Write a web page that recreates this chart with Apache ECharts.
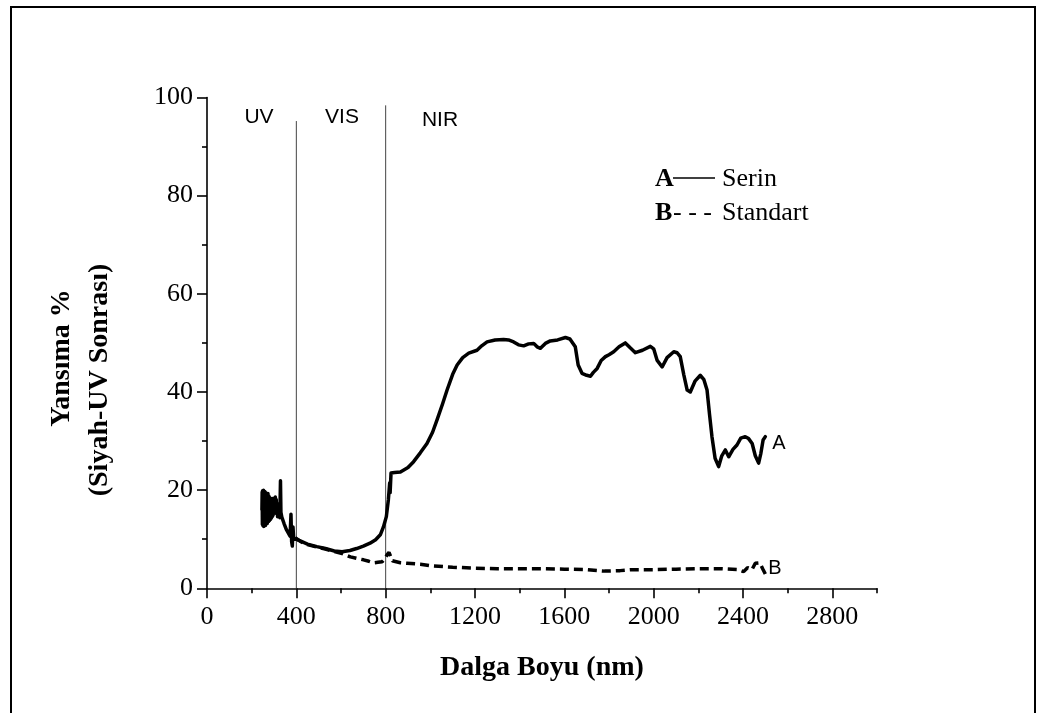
<!DOCTYPE html>
<html>
<head>
<meta charset="utf-8">
<script src="https://cdn.jsdelivr.net/npm/echarts@6/dist/echarts.min.js"></script>
<style>
  html, body { margin: 0; padding: 0; background: #fff; }
  #chart { width: 1049px; height: 713px; }
</style>
</head>
<body>
<div id="chart"></div>
<script>
// Wavelength (nm) / reflectance (%) pairs for the two fabrics
const serinNoise = [
  [246, 16.0], [247, 19.6], [248, 13.0], [249, 19.9], [250, 12.8], [251, 19.4],
  [252, 13.2], [253, 20.0], [254, 12.6], [255, 19.8], [256, 13.4], [257, 19.1],
  [258, 12.9], [259, 19.7], [260, 13.3], [261, 18.9], [262, 12.8], [263, 19.5],
  [264, 13.6], [265, 19.2], [266, 13.1], [267, 18.6], [268, 13.5], [269, 19.0],
  [270, 13.2], [271, 18.3], [272, 13.9], [273, 19.3], [274, 14.1], [275, 18.2],
  [276, 13.6], [277, 18.8], [278, 14.4], [279, 17.9], [280, 13.8], [281, 18.5],
  [282, 14.6], [283, 17.6], [284, 14.0], [285, 18.2], [286, 14.8], [287, 17.3],
  [288, 14.3], [289, 18.0], [290, 15.0], [291, 17.4], [292, 14.6], [293, 18.3],
  [294, 15.1], [295, 17.6], [296, 14.9], [298, 17.9], [300, 15.3], [302, 18.4],
  [304, 15.6], [306, 18.6], [308, 15.4], [310, 18.1], [312, 15.2], [314, 17.3],
  [316, 14.6], [318, 16.2], [320, 14.8], [322, 16.4], [324, 15.2], [326, 14.4],
  [329, 21.9], [331, 15.5]
];
const serinMain = [
  [335, 14.5], [345, 13.2], [355, 12.0], [365, 11.2], [372, 10.6], [376, 15.1],
  [379, 9.5], [382, 8.6], [385, 12.5], [388, 10.2], [395, 10.5], [420, 9.6],
  [450, 9.0], [492, 8.5], [530, 8.1], [570, 7.6], [605, 7.45], [640, 7.7],
  [670, 8.1], [700, 8.6], [730, 9.2], [755, 9.9], [776, 10.9], [790, 12.5],
  [803, 14.6], [812, 18.0], [818, 21.5], [820, 19.5], [824, 23.5], [840, 23.6],
  [866, 23.7], [900, 24.6], [925, 25.8], [955, 27.6], [985, 29.5], [1010, 31.8],
  [1030, 34.3], [1055, 37.6], [1075, 40.4], [1100, 43.6], [1120, 45.5], [1145, 47.0],
  [1172, 47.9], [1209, 48.5], [1230, 49.4], [1254, 50.2], [1290, 50.6], [1328, 50.7],
  [1350, 50.6], [1373, 50.2], [1395, 49.6], [1418, 49.4], [1440, 49.8], [1463, 49.9],
  [1478, 49.2], [1493, 48.9], [1515, 49.9], [1537, 50.4], [1570, 50.6], [1605, 51.1],
  [1625, 50.8], [1649, 49.2], [1662, 45.5], [1679, 43.8], [1700, 43.4], [1717, 43.2],
  [1730, 44.0], [1747, 44.8], [1765, 46.4], [1784, 47.2], [1800, 47.6], [1821, 48.2],
  [1845, 49.2], [1873, 50.0], [1895, 49.0], [1918, 48.0], [1950, 48.5], [1985, 49.3],
  [2000, 48.8], [2015, 46.5], [2038, 45.1], [2060, 47.0], [2090, 48.2], [2105, 48.0],
  [2119, 47.2], [2135, 43.5], [2150, 40.4], [2164, 40.0], [2185, 42.2], [2209, 43.4],
  [2225, 42.5], [2239, 40.4], [2250, 35.5], [2261, 30.9], [2275, 26.5], [2291, 24.8],
  [2305, 27.0], [2321, 28.2], [2336, 26.8], [2355, 28.3], [2373, 29.2], [2390, 30.6],
  [2410, 30.9], [2425, 30.5], [2441, 29.5], [2455, 27.0], [2470, 25.5], [2480, 27.5],
  [2490, 30.2], [2500, 30.9]
];
const standart = [
  [395, 10.3], [420, 9.5], [450, 8.9], [492, 8.4], [530, 8.0], [570, 7.5],
  [605, 7.1], [642, 6.4], [670, 6.1], [701, 5.8], [725, 5.5], [746, 5.2],
  [765, 5.3], [784, 5.4], [796, 6.0], [806, 6.8], [815, 7.3], [822, 7.0],
  [830, 5.6], [836, 5.4], [866, 5.2], [896, 5.1], [955, 4.9], [1000, 4.6],
  [1100, 4.3], [1200, 4.1], [1300, 4.0], [1400, 4.0], [1500, 4.0], [1600, 3.9],
  [1700, 3.8], [1780, 3.5], [1850, 3.6], [1900, 3.8], [2000, 3.8], [2100, 3.9],
  [2200, 4.0], [2300, 4.0], [2380, 3.8], [2403, 3.4], [2420, 4.2], [2440, 3.8],
  [2455, 5.1], [2475, 5.2], [2488, 4.0], [2500, 2.9]
];
// Region boundaries: UV | VIS | NIR
const bandEdges = [[400, 95.2], [800, 98.4]];
const bandNames = ['UV', 'VIS', 'NIR'];

const xMajor = [0, 400, 800, 1200, 1600, 2000, 2400, 2800];
const xMinor = [200, 600, 1000, 1400, 1800, 2200, 2600, 3000];
const yMajor = [0, 20, 40, 60, 80, 100];
const yMinor = [10, 30, 50, 70, 90];

const serif = '"Liberation Serif", "Times New Roman", serif';
const sans = '"Liberation Sans", Arial, sans-serif';
const plain = function (v) { return String(v); };

const chart = echarts.init(document.getElementById('chart'), null, { renderer: 'canvas' });

const axisCommon = {
  type: 'value',
  splitLine: { show: false },
  axisLine: { show: true, onZero: false, lineStyle: { color: '#000', width: 1.6 } }
};

const edgeSeries = bandEdges.map(function (e) {
  return {
    type: 'line', xAxisIndex: 0, yAxisIndex: 0, symbol: 'none', silent: true,
    lineStyle: { color: '#444', width: 1 },
    data: [[e[0], 0], [e[0], e[1]]]
  };
});

chart.setOption({
  backgroundColor: '#fff',
  animation: false,
  grid: { left: 207, right: 172, top: 97.5, bottom: 124.7 },
  xAxis: [
    Object.assign({}, axisCommon, {
      min: 0, max: 3000,
      axisTick: { show: true, inside: false, length: 10, customValues: xMajor, lineStyle: { color: '#000', width: 1.6 } },
      axisLabel: { show: true, customValues: xMajor, formatter: plain, margin: 16, fontFamily: serif, fontSize: 26, color: '#000' }
    }),
    Object.assign({}, axisCommon, {
      min: 0, max: 3000, position: 'bottom',
      axisLine: { show: false },
      axisTick: { show: true, length: 5, customValues: xMinor, lineStyle: { color: '#000', width: 1.6 } },
      axisLabel: { show: false }
    })
  ],
  yAxis: [
    Object.assign({}, axisCommon, {
      min: 0, max: 100,
      axisTick: { show: true, length: 10, customValues: yMajor, lineStyle: { color: '#000', width: 1.6 } },
      axisLabel: { show: true, customValues: yMajor, formatter: plain, margin: 14, fontFamily: serif, fontSize: 26, color: '#000' }
    }),
    Object.assign({}, axisCommon, {
      min: 0, max: 100, position: 'left',
      axisLine: { show: false },
      axisTick: { show: true, length: 5, customValues: yMinor, lineStyle: { color: '#000', width: 1.6 } },
      axisLabel: { show: false }
    })
  ],
  series: edgeSeries.concat([
    {
      name: 'Standart', type: 'line', xAxisIndex: 0, yAxisIndex: 0, symbol: 'none',
      lineStyle: { color: '#000', width: 3.5, type: [9, 5] },
      data: standart
    },
    {
      name: 'Serin', type: 'line', xAxisIndex: 0, yAxisIndex: 0, symbol: 'none',
      lineStyle: { color: '#000', width: 3.5, join: 'round', cap: 'round' },
      data: serinNoise.concat(serinMain)
    }
  ])
});

// Axis titles, region names, curve tags and the key
const px = function (x, y) { return chart.convertToPixel({ xAxisIndex: 0, yAxisIndex: 0 }, [x, y]); };
const lastA = serinMain[serinMain.length - 1];
const lastB = standart[standart.length - 1];
const pA = px(lastA[0], lastA[1]);
const pB = px(lastB[0], 4.5);

chart.setOption({
  graphic: [
    { type: 'rect', silent: true, shape: { x: 11, y: 7, width: 1024, height: 720 },
      style: { fill: 'none', stroke: '#000', lineWidth: 2 } },
    { type: 'text', x: 542, y: 668, style: { text: 'Dalga Boyu (nm)', font: 'bold 28px ' + serif, fill: '#000', align: 'center', verticalAlign: 'middle' } },
    { type: 'text', x: 62, y: 358, rotation: Math.PI / 2, style: { text: 'Yansıma %', font: 'bold 28px ' + serif, fill: '#000', align: 'center', verticalAlign: 'middle' } },
    { type: 'text', x: 100, y: 380, rotation: Math.PI / 2, style: { text: '(Siyah-UV Sonrası)', font: 'bold 28px ' + serif, fill: '#000', align: 'center', verticalAlign: 'middle' } },
    { type: 'text', x: 259, y: 117, style: { text: bandNames[0], font: '21px ' + sans, fill: '#000', align: 'center', verticalAlign: 'middle' } },
    { type: 'text', x: 342, y: 117, style: { text: bandNames[1], font: '21px ' + sans, fill: '#000', align: 'center', verticalAlign: 'middle' } },
    { type: 'text', x: 440, y: 120, style: { text: bandNames[2], font: '21px ' + sans, fill: '#000', align: 'center', verticalAlign: 'middle' } },
    { type: 'text', x: pA[0] + 7, y: pA[1] + 7, style: { text: 'A', font: '20px ' + sans, fill: '#000', align: 'left', verticalAlign: 'middle' } },
    { type: 'text', x: pB[0] + 3, y: pB[1] + 2, style: { text: 'B', font: '20px ' + sans, fill: '#000', align: 'left', verticalAlign: 'middle' } },
    { type: 'text', x: 655, y: 179, style: { text: 'A', font: 'bold 26px ' + serif, fill: '#000', align: 'left', verticalAlign: 'middle' } },
    { type: 'line', shape: { x1: 673, y1: 178, x2: 715, y2: 178 }, style: { stroke: '#000', lineWidth: 1.6 } },
    { type: 'text', x: 722, y: 179, style: { text: 'Serin', font: '26px ' + serif, fill: '#000', align: 'left', verticalAlign: 'middle' } },
    { type: 'text', x: 655, y: 213, style: { text: 'B', font: 'bold 26px ' + serif, fill: '#000', align: 'left', verticalAlign: 'middle' } },
    { type: 'text', x: 673, y: 213, style: { text: '- - -', font: '26px ' + serif, fill: '#000', align: 'left', verticalAlign: 'middle' } },
    { type: 'text', x: 722, y: 213, style: { text: 'Standart', font: '26px ' + serif, fill: '#000', align: 'left', verticalAlign: 'middle' } }
  ]
});
</script>
</body>
</html>
